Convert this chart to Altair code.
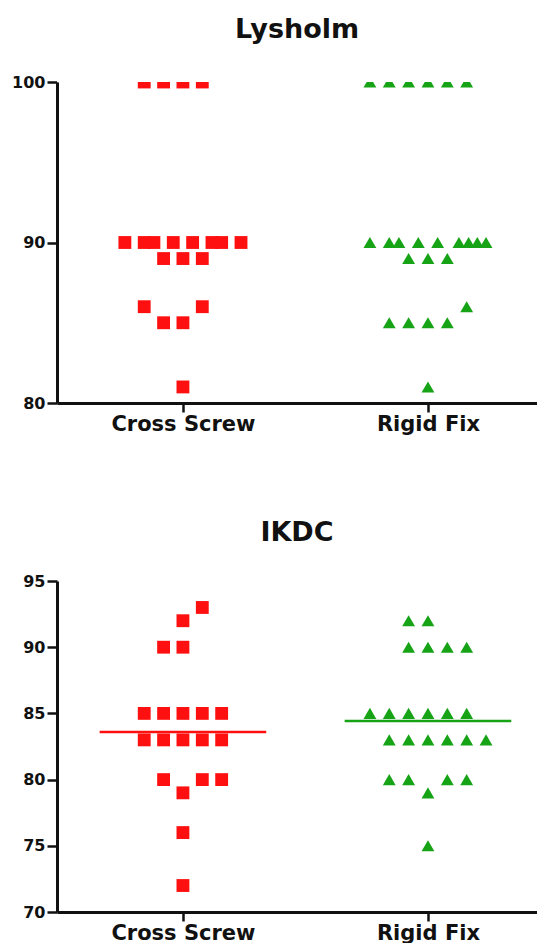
import altair as alt
import pandas as pd

groups = ["Cross Screw", "Rigid Fix"]

# ---- Lysholm (slots = horizontal scatter position in marker widths)
lys_cs_values = [100, 100, 100, 100, 90, 90, 90, 90, 90, 90, 90, 90, 89, 89, 89, 86, 86, 85, 85, 81]
lys_cs_slots = [-2, -1, 0, 1, -3, -2, -1.5, -0.5, 0.5, 1.5, 2, 3, -1, 0, 1, -2, 1, -1, 0, 0]
lys_rf_values = [100, 100, 100, 100, 100, 100, 90, 90, 90, 90, 90, 90, 90, 90, 90,
                 89, 89, 89, 86, 85, 85, 85, 85, 81]
lys_rf_slots = [-3, -2, -1, 0, 1, 2, -3, -2, -1.5, -0.5, 0.5, 1.6, 2.1, 2.55, 3,
                -1, 0, 1, 2, -2, -1, 0, 1, 0]

# ---- IKDC
ikdc_cs_values = [93, 92, 90, 90, 85, 85, 85, 85, 85, 83, 83, 83, 83, 83, 80, 80, 80, 79, 76, 72]
ikdc_cs_slots = [1, 0, -1, 0, -2, -1, 0, 1, 2, -2, -1, 0, 1, 2, -1, 1, 2, 0, 0, 0]
ikdc_rf_values = [92, 92, 90, 90, 90, 90, 85, 85, 85, 85, 85, 85, 83, 83, 83, 83, 83, 83,
                  80, 80, 80, 80, 79, 75]
ikdc_rf_slots = [-1, 0, -1, 0, 1, 2, -3, -2, -1, 0, 1, 2, -2, -1, 0, 1, 2, 3,
                 -2, -1, 1, 2, 0, 0]

lys_ticks = [80, 90, 100]
ikdc_ticks = [70, 75, 80, 85, 90, 95]

SLOT_W = 0.079
HALF_LINE = 0.34
X_DOMAIN = [0.486, 2.445]
FONT = "DejaVu Sans"


def make_df(cs_vals, cs_slots, rf_vals, rf_slots):
    rows = []
    for gi, (vals, slots) in enumerate([(cs_vals, cs_slots), (rf_vals, rf_slots)], start=1):
        for v, s in zip(vals, slots):
            rows.append({"group": groups[gi - 1], "gx": gi, "value": v, "x": gi + s * SLOT_W})
    return pd.DataFrame(rows)


lys_df = make_df(lys_cs_values, lys_cs_slots, lys_rf_values, lys_rf_slots)
ikdc_df = make_df(ikdc_cs_values, ikdc_cs_slots, ikdc_rf_values, ikdc_rf_slots)

label_expr = "datum.value == 1 ? 'Cross Screw' : (datum.value == 2 ? 'Rigid Fix' : '')"

x_axis = alt.Axis(values=[1, 2], labelExpr=label_expr, title=None, grid=False,
                  labelFontSize=21, labelFont=FONT, labelFontWeight="bold", labelColor="#111",
                  tickSize=9, tickWidth=2.5, tickColor="#111", domainColor="#111",
                  domainWidth=3, labelPadding=1)


def y_axis(ticks):
    return alt.Axis(values=ticks, title=None, grid=False, labelFontSize=16, labelFont=FONT,
                    labelFontWeight="bold", labelColor="#111", tickSize=10, tickWidth=2.5,
                    tickColor="#111", domainColor="#111", domainWidth=3, labelPadding=2)


def panel(df, title, ydom, ticks, colors, mean_line, height, offset):
    xs = alt.Scale(domain=X_DOMAIN, nice=False, zero=False)
    ys = alt.Scale(domain=ydom, nice=False, zero=False)
    color = alt.Color("group:N", scale=alt.Scale(domain=groups, range=colors), legend=None)
    shape = alt.Shape("group:N", scale=alt.Scale(domain=groups, range=["square", "triangle-up"]),
                      legend=None)
    pts = alt.Chart(df).mark_point(filled=True, size=165, opacity=1, clip=True).encode(
        x=alt.X("x:Q", scale=xs, axis=x_axis),
        y=alt.Y("value:Q", scale=ys, axis=y_axis(ticks)),
        color=color, shape=shape)
    layers = [pts]
    if mean_line:
        rule = alt.Chart(df).transform_aggregate(
            mean="mean(value)", groupby=["group", "gx"]
        ).transform_calculate(
            x1=f"datum.gx - {HALF_LINE}", x2=f"datum.gx + {HALF_LINE}"
        ).mark_rule(strokeWidth=2.5).encode(
            x=alt.X("x1:Q", scale=xs, axis=x_axis),
            x2="x2:Q",
            y=alt.Y("mean:Q", scale=ys, axis=y_axis(ticks)),
            color=color,
        )
        layers.append(rule)
    if df["value"].max() >= ydom[1]:
        # white band just above the plot top: hides the half of markers sitting on the
        # axis maximum (the original clips points at the axis end)
        mask_df = pd.DataFrame({"x1": [X_DOMAIN[0]], "x2": [X_DOMAIN[1]], "y1": [ydom[1]],
                                "y2": [ydom[1] + (ydom[1] - ydom[0]) * 0.022]})
        mask = alt.Chart(mask_df).mark_rect(color="white", clip=False).encode(
            x=alt.X("x1:Q", scale=xs, axis=x_axis), x2="x2:Q",
            y=alt.Y("y1:Q", scale=ys, axis=y_axis(ticks)), y2="y2:Q")
        layers.append(mask)
    return alt.layer(*layers).properties(
        width=480, height=height,
        title=alt.TitleParams(title, font=FONT, fontSize=27, fontWeight="bold", color="#111",
                              anchor="middle", offset=offset),
    )


top = panel(lys_df, "Lysholm", [80, 100], lys_ticks, ["#ff1010", "#16a316"], False, 321, 30)
bottom = panel(ikdc_df, "IKDC", [70, 95], ikdc_ticks, ["#ff1010", "#2ee82e"], True, 331, 26)

chart = alt.vconcat(top, bottom, spacing=85).properties(
    padding={"top": 8, "left": 3, "right": 0, "bottom": 0}
).configure_view(strokeWidth=0)

chart.save("out.html", embed_options={"renderer": "svg", "actions": False})
